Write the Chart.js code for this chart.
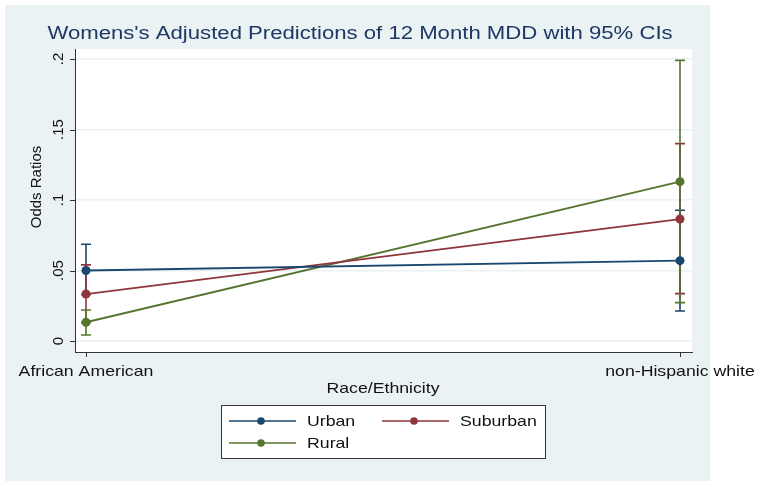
<!DOCTYPE html>
<html>
<head>
<meta charset="utf-8">
<script src="https://cdn.jsdelivr.net/npm/chart.js@4"></script>
<style>
  body { margin: 0; background: #fff; }
  canvas { display: block; }
</style>
</head>
<body>
<canvas id="chart" width="761" height="487"></canvas>
<script>
// 12 month MDD predictions, women
var categories = ['African American', 'non-Hispanic white'];
var yTicks = [0, 0.05, 0.1, 0.15, 0.2];
var yTickLabels = ['0', '.05', '.1', '.15', '.2'];

var urban = [0.050, 0.057];
var urbanLo = [0.033, 0.0213];
var urbanHi = [0.0686, 0.0927];

var suburban = [0.0333, 0.0865];
var suburbanLo = [0.013, 0.0336];
var suburbanHi = [0.054, 0.140];

var rural = [0.0133, 0.113];
var ruralLo = [0.0043, 0.0272];
var ruralHi = [0.022, 0.199];

var FONT = "'Liberation Sans', Arial, sans-serif";
var NAVY = '#1a476f', MAROON = '#90353b', GREEN = '#55752f';
var BG = '#eaf2f3';
var SX = 1.18; // the original graph is a bit stretched sideways

function pts(arr) {
    return arr.map(function(v, i) { return { x: i, y: v }; });
}

// text drawn wider than the font normally is
function wideText(ctx, text, x, y, sx) {
    ctx.save();
    ctx.translate(x, y);
    ctx.scale(sx, 1);
    ctx.fillText(text, 0, 0);
    ctx.restore();
}

var series = [
    { label: 'Urban', data: urban, lo: urbanLo, hi: urbanHi, color: NAVY },
    { label: 'Suburban', data: suburban, lo: suburbanLo, hi: suburbanHi, color: MAROON },
    { label: 'Rural', data: rural, lo: ruralLo, hi: ruralHi, color: GREEN }
];

var stataPlugin = {
    id: 'stata',
    beforeDraw: function(chart) {
        var ctx = chart.ctx, a = chart.chartArea;
        ctx.save();
        ctx.fillStyle = '#fff';
        ctx.fillRect(0, 0, chart.width, chart.height);
        ctx.fillStyle = BG;
        ctx.fillRect(5, 5, 705, 476);
        ctx.fillStyle = '#fff';
        ctx.fillRect(a.left, a.top, a.right - a.left, a.bottom - a.top);
        ctx.restore();
    },
    beforeDatasetsDraw: function(chart) {
        // error bars (caps) under the lines and markers
        var ctx = chart.ctx, xs = chart.scales.x, ys = chart.scales.y;
        ctx.save();
        ctx.lineWidth = 1.6;
        series.forEach(function(s) {
            ctx.strokeStyle = s.color;
            for (var i = 0; i < s.data.length; i++) {
                var px = xs.getPixelForValue(i);
                var y1 = ys.getPixelForValue(s.lo[i]);
                var y2 = ys.getPixelForValue(s.hi[i]);
                ctx.beginPath();
                ctx.moveTo(px, y1); ctx.lineTo(px, y2);
                ctx.moveTo(px - 5, y1); ctx.lineTo(px + 5, y1);
                ctx.moveTo(px - 5, y2); ctx.lineTo(px + 5, y2);
                ctx.stroke();
            }
        });
        ctx.restore();
    },
    afterDraw: function(chart) {
        var ctx = chart.ctx, a = chart.chartArea;
        var xs = chart.scales.x, ys = chart.scales.y;
        ctx.save();

        // tick marks
        ctx.strokeStyle = '#333';
        ctx.lineWidth = 1;
        ctx.beginPath();
        yTicks.forEach(function(v) {
            var py = Math.round(ys.getPixelForValue(v)) + 0.5;
            ctx.moveTo(a.left - 5, py); ctx.lineTo(a.left, py);
        });
        categories.forEach(function(c, i) {
            var px = Math.round(xs.getPixelForValue(i)) + 0.5;
            ctx.moveTo(px, a.bottom); ctx.lineTo(px, a.bottom + 5);
        });
        ctx.stroke();

        ctx.fillStyle = '#111';
        ctx.font = '15px ' + FONT;

        // y tick labels, rotated
        ctx.textAlign = 'center';
        ctx.textBaseline = 'alphabetic';
        yTicks.forEach(function(v, i) {
            var py = ys.getPixelForValue(v);
            ctx.save();
            ctx.translate(63, py);
            ctx.rotate(-Math.PI / 2);
            ctx.fillText(yTickLabels[i], 0, 0);
            ctx.restore();
        });

        // y title
        ctx.save();
        ctx.translate(41, 187);
        ctx.rotate(-Math.PI / 2);
        ctx.fillText('Odds Ratios', 0, 0);
        ctx.restore();

        // x tick labels
        categories.forEach(function(c, i) {
            wideText(ctx, c, xs.getPixelForValue(i), 376, SX);
        });
        wideText(ctx, 'Race/Ethnicity', 383, 393, SX);

        // title
        ctx.fillStyle = '#1e3764';
        ctx.font = '18px ' + FONT;
        wideText(ctx, "Womens's Adjusted Predictions of 12 Month MDD with 95% CIs", 360, 39, 1.23);

        // legend
        ctx.fillStyle = '#fff';
        ctx.fillRect(221, 405, 325, 54);
        ctx.strokeStyle = '#333';
        ctx.lineWidth = 1;
        ctx.strokeRect(221.5, 405.5, 324, 53);

        var spots = [[229, 421], [382, 421], [229, 443]];
        ctx.font = '15px ' + FONT;
        ctx.textAlign = 'left';
        ctx.textBaseline = 'middle';
        series.forEach(function(s, i) {
            var x0 = spots[i][0], y0 = spots[i][1];
            ctx.strokeStyle = s.color;
            ctx.lineWidth = 1.5;
            ctx.beginPath();
            ctx.moveTo(x0, y0); ctx.lineTo(x0 + 67, y0);
            ctx.stroke();
            ctx.fillStyle = s.color;
            ctx.beginPath();
            ctx.arc(x0 + 32, y0, 3.8, 0, Math.PI * 2);
            ctx.fill();
            ctx.fillStyle = '#111';
            wideText(ctx, s.label, x0 + 78, y0 + 1, SX);
        });

        ctx.restore();
    }
};

var ctx = document.getElementById('chart').getContext('2d');

var chart = new Chart(ctx, {
    type: 'line',
    data: {
        datasets: series.map(function(s) {
            return {
                label: s.label,
                data: pts(s.data),
                borderColor: s.color,
                backgroundColor: s.color,
                borderWidth: 1.8,
                pointRadius: 4.5,
                pointHoverRadius: 4.5,
                pointBorderWidth: 0,
                tension: 0
            };
        })
    },
    options: {
        responsive: false,
        animation: false,
        layout: { padding: { left: 75, top: 49, right: 69, bottom: 135 } },
        plugins: {
            legend: { display: false },
            tooltip: { enabled: false }
        },
        scales: {
            x: {
                type: 'linear',
                min: -0.0185,
                max: 1.0202,
                afterBuildTicks: function(scale) {
                    scale.ticks = categories.map(function(c, i) { return { value: i }; });
                },
                ticks: { display: false },
                grid: { color: 'rgba(0,0,0,0)', drawTicks: false },
                border: { display: true, color: '#333', width: 1 }
            },
            y: {
                type: 'linear',
                min: -0.0078,
                max: 0.2071,
                afterBuildTicks: function(scale) {
                    scale.ticks = yTicks.map(function(v) { return { value: v }; });
                },
                ticks: { display: false },
                grid: { color: BG, lineWidth: 1.5, drawTicks: false },
                border: { display: true, color: '#333', width: 1 }
            }
        }
    },
    plugins: [stataPlugin]
});
</script>
</body>
</html>
